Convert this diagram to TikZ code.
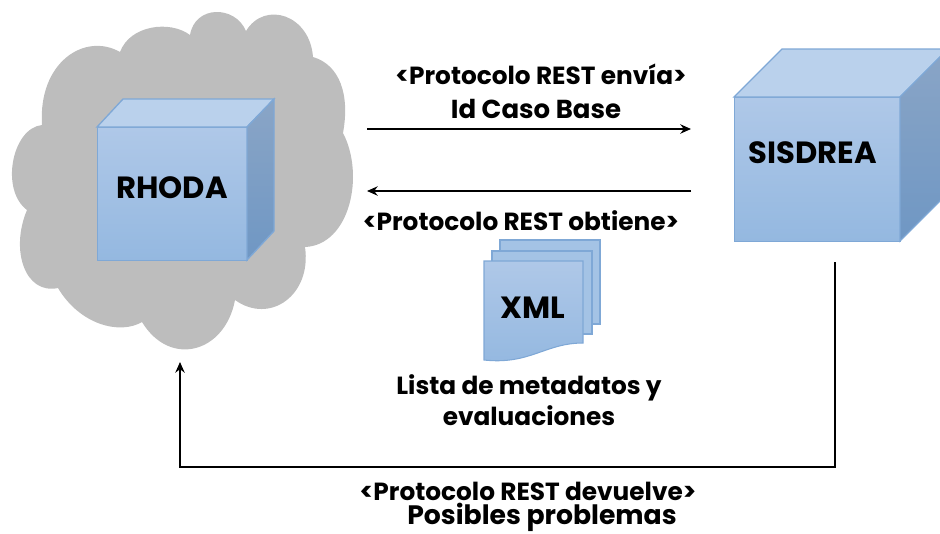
\documentclass[tikz,border=0pt]{standalone}
\usepackage{fontspec}
\setmainfont{Poppins}
\usetikzlibrary{arrows.meta,calc}
\definecolor{cloudgray}{HTML}{BDBDBD}
\definecolor{edgeblue}{HTML}{7FA8D6}
\definecolor{frontTop}{HTML}{AFC8E8}
\definecolor{frontBot}{HTML}{94B8E0}
\definecolor{topFace}{HTML}{BAD1EC}
\definecolor{sideTop}{HTML}{8AA5C6}
\definecolor{sideBot}{HTML}{6F97C4}
\tikzset{
  x=0.75pt,y=-0.75pt,
  face/.style={draw=edgeblue,line width=1pt,top color=frontTop,bottom color=frontBot,inner sep=0pt},
  topf/.style={draw=edgeblue,line width=1pt,fill=topFace},
  sidef/.style={draw=edgeblue,line width=1pt,top color=sideTop,bottom color=sideBot},
  lbl/.style={font=\bfseries\fontsize{18.6}{18.6}\selectfont,text=black,inner sep=0pt,anchor=base},
  biglbl/.style={lbl,font=\bfseries\fontsize{23}{23}\selectfont},
  widelbl/.style={lbl,font=\bfseries\fontsize{19.5}{19.5}\selectfont},
  conn/.style={draw=black,line width=1.5pt,-{Stealth[length=8pt,width=7pt]}},
}
\begin{document}
\begin{tikzpicture}
\useasboundingbox (0,0) rectangle (940,533);
\clip (0,0) rectangle (940,533);
% cloud
\path[fill=cloudgray]
 (120,52) .. controls (85,32) and (38,62) .. (42,125)
 .. controls (12,128) and (0,190) .. (27,210)
 .. controls (10,250) and (25,295) .. (58,288)
 .. controls (80,325) and (120,335) .. (142,322)
 .. controls (170,368) and (225,353) .. (235,300)
 .. controls (270,325) and (312,295) .. (305,247)
 .. controls (350,245) and (365,175) .. (343,133)
 .. controls (350,95) and (340,65) .. (313,57)
 .. controls (310,15) and (265,0) .. (246,31)
 .. controls (235,5) and (195,5) .. (190,35)
 .. controls (170,20) and (130,25) .. (120,52) -- cycle;
% RHODA cube
\node[face,minimum width=112.5pt,minimum height=99.75pt,anchor=north west] (rhoda) at (97,127) {};
\path[topf] (97,127) -- (123,99) -- (274,99) -- (247,127) -- cycle;
\path[sidef] (247,127) -- (274,99) -- (274,231) -- (247,260) -- cycle;
\node[biglbl] (rhodat) at (172,198) {RHODA};
% SISDREA cube
\node[face,minimum width=124.5pt,minimum height=108pt,anchor=north west] (sisdrea) at (734,97) {};
\path[topf] (734,97) -- (782,49) -- (948,49) -- (900,97) -- cycle;
\path[sidef] (900,97) -- (948,49) -- (948,193) -- (900,241) -- cycle;
\node[biglbl] (sisdreat) at (813,163) {SISDREA};
% XML pages
\path[draw=edgeblue,line width=.8pt,fill=frontBot!85!white] (500,240) rectangle (600,324);
\path[draw=edgeblue,line width=.8pt,fill=frontBot!85!white] (492,251) rectangle (592,334);
\path[draw=edgeblue,line width=.8pt,top color=frontTop,bottom color=frontBot]
 (484,261) -- (583,261) -- (583,343)
 .. controls (545,343) and (530,365) .. (484,360) -- cycle;
\node[biglbl] (xml) at (533,318) {XML};
% labels
\node[lbl] (l1) at (541,84) {<Protocolo REST envía>};
\node[widelbl] (l2) at (536,118) {Id Caso Base};
\node[lbl] (l3) at (521,230) {<Protocolo REST obtiene>};
\node[lbl] (l4) at (529,394) {Lista de metadatos y};
\node[lbl] (l5) at (529,425) {evaluaciones};
\node[lbl] (l6) at (528,500) {<Protocolo REST devuelve>};
\node[widelbl,font=\bfseries\fontsize{20}{20}\selectfont] (l7) at (542,524) {Posibles problemas};
% connectors
\coordinate (a1) at (367,129); \coordinate (a2) at (691,129);
\coordinate (b1) at (691,191); \coordinate (b2) at (367,191);
\coordinate (c1) at (835,262); \coordinate (c2) at (835,467);
\coordinate (c3) at (180,467); \coordinate (c4) at (180,362);
\draw[conn] (a1) -- (a2);
\draw[conn] (b1) -- (b2);
\draw[conn] (c1) -- (c2) -- (c3) -- (c4);
\end{tikzpicture}
\end{document}
